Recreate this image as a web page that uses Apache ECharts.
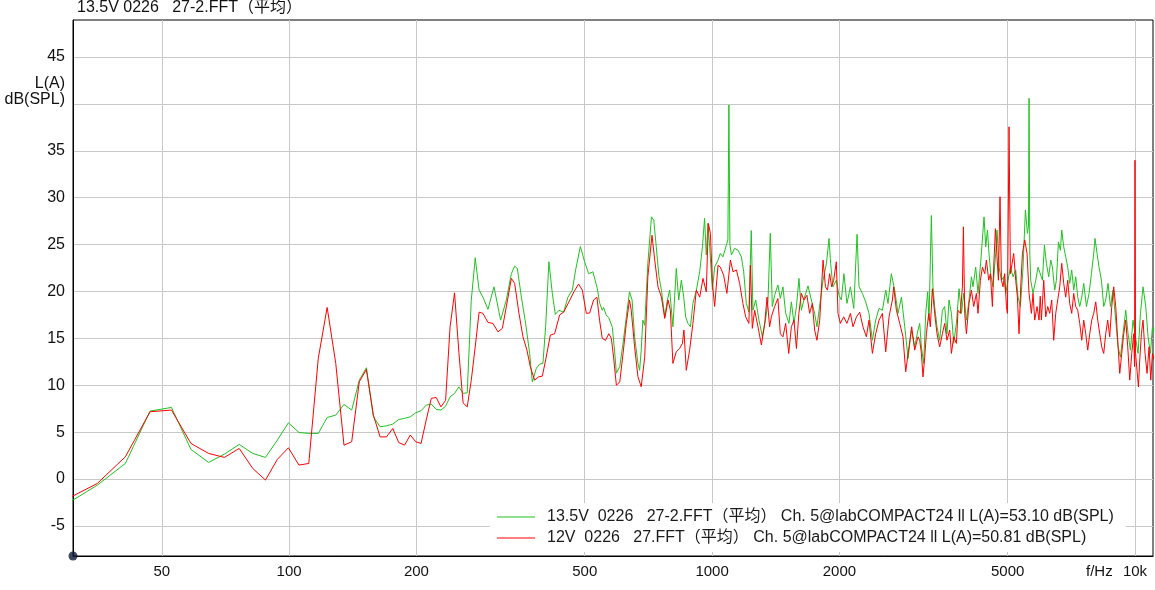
<!DOCTYPE html>
<html><head><meta charset="utf-8">
<script src="https://cdn.jsdelivr.net/npm/echarts@6/dist/echarts.min.js"></script>
<style>html,body{margin:0;padding:0;background:#fff}#c{width:1155px;height:590px}</style>
</head><body><div id="c"></div>
<script>
const titleText = '13.5V 0226   27-2.FFT（平均）';
const greenName = '13.5V  0226   27-2.FFT（平均） Ch. 5@labCOMPACT24 ll L(A)=53.10 dB(SPL)';
const redName = '12V  0226   27.FFT（平均） Ch. 5@labCOMPACT24 ll L(A)=50.81 dB(SPL)';
const unitLines = ['L(A)', 'dB(SPL)'];
const xTickHz = [50, 100, 200, 500, 1000, 2000, 5000, 10000];
const yGridTicks = [-5, 0, 5, 10, 15, 20, 25, 30, 35, 40, 45];
const yLabelTicks = [-5, 0, 5, 10, 15, 20, 25, 30, 35, 45];
const xMinHz = 30.83, xMaxHz = 11030, yMin = -8.2, yMax = 48.95;

const greenFreq = [29.3,35.2,41.0,46.9,52.7,58.6,64.5,70.3,76.2,82.0,87.9,93.8,99.6,105.5,111.3,117.2,123.0,128.9,134.8,140.6,146.5,152.3,158.2,164.1,169.9,175.8,181.6,187.5,193.4,199.2,205.1,210.9,216.8,222.7,228.5,234.4,240.2,246.1,252.0,257.8,263.7,269.5,275.4,281.3,
287.2,295.2,305.0,316.3,326.3,335.3,341.4,346.4,354.1,362.4,370.4,375.9,384.1,391.1,398.2,404.1,411.4,419.1,426.0,434.5,445.7,456.3,467.3,475.8,488.2,499.7,510.7,522.8,535.5,
542,550,554,562,570,581,588,594,605,616,627,638,647,656,668,674,680,686,693,705,719,728,738,749,759,773,784,794,808,823,834,846,857,866,877,889,901,918,935,949,960,969,978,987,1002,1014,1033,1046,1061,1081,1090,1096,1102,1111,1131,1152,1173,1188,1205,1222,1238,1249,1268,1291,1315,1339,1356,
1373,1388,1406,1431,1450,1471,1493,1520,1540,1562,1583,1605,1626,1655,1686,1717,1748,1770,1804,1830,1864,1890,1907,1931,1967,1996,2022,2050,2084,2124,2163,2202,2226,2267,2308,2350,2394,2437,2482,2528,2574,2606,2654,2703,2752,2804,2855,2907,2960,3014,3069,
3097,3126,3165,3200,3235,3258,3300,3329,3360,3403,3453,3504,3548,3593,3633,3681,3727,3782,3837,3887,3936,3994,4051,4104,4140,4201,4254,4318,4396,4437,4478,4517,4559,4616,4684,4718,4770,4833,4893,4947,5010,5075,5148,5224,5290,5359,5436,5507,5568,5600,5617,5640,5669,5740,5825,5899,
5953,6041,6107,6174,6252,6321,6379,6459,6519,6591,6663,6711,6784,6858,6933,7009,7086,7163,7242,7321,7402,7483,7565,7677,7787,7889,7988,8045,8133,8222,8330,8435,8527,8635,8748,8873,9004,9118,9238,9370,9509,9629,9755,9894,10024,10168,10301,10448,10603,10737,10877,10996,11200];
const greenDb = [-2.85,-0.64,1.67,7.25,7.64,3.16,1.78,2.66,3.7,2.74,2.31,4.16,6.0,4.97,4.87,4.87,6.57,6.82,7.96,7.36,10.55,11.87,6.64,5.58,5.68,5.86,6.36,6.47,6.64,7.07,7.29,7.89,8.0,7.43,7.36,7.78,8.77,9.14,9.84,9.14,9.2,19.0,23.6,20.15,
19.4,18.1,20.5,16.95,19.1,21.9,22.7,22.46,19.4,16.6,13.4,10.37,11.8,12.26,12.33,16.24,23.17,19.8,17.56,18.0,17.8,19.4,20.15,22.3,24.8,23.17,21.9,22.1,20.3,
18.8,18.0,18.3,17.5,17.2,16.2,13.75,11.3,12.0,14.5,17.3,19.97,19.1,15.17,12.33,11.6,13.75,16.95,16.4,23.0,27.96,27.6,24.77,21.57,20.15,17.3,19.1,20.15,16.24,22.46,19.1,21.2,19.4,17.3,16.6,16.24,18.73,20.15,22.1,24.77,27.8,23.9,27.26,24.77,20.15,22.6,23.35,24.06,23.7,24.95,25.5,39.9,25.0,23.9,24.6,24.4,23.7,22.1,18.73,17.8,26.5,18.0,19.1,16.95,15.17,17.1,19.0,
26.2,18.4,19.6,20.7,19.26,20.5,17.67,16.6,18.9,16.6,18.4,21.4,18.0,19.4,20.6,19.1,17.67,16.24,19.1,21.2,23.0,25.66,23.0,20.5,21.2,19.6,19.1,21.9,18.73,20.5,18.2,26.1,20.5,19.8,18.9,17.67,14.8,16.95,18.2,18.0,20.15,18.73,21.9,20.15,17.67,19.4,16.24,12.87,15.9,14.1,15.9,
16.6,14.1,12.33,17.67,19.97,16.95,28.1,20.5,18.4,16.24,14.8,18.0,18.4,15.5,19.1,17.67,14.47,16.6,20.3,17.67,19.8,16.95,19.1,21.57,20.5,22.6,19.8,23.17,27.96,24.77,26.55,24.06,21.9,20.5,24.06,26.55,22.6,21.2,21.57,19.8,21.2,22.6,21.57,22.3,19.4,18.4,22.6,28.7,26.2,27.0,40.6,24.0,21.2,19.8,21.2,22.6,
22.5,21.2,24.95,23.0,21.57,23.35,22.6,20.15,21.2,25.3,24.4,26.55,24.77,23.7,22.6,20.86,22.3,20.15,21.57,19.4,18.4,19.4,20.86,18.4,19.8,21.9,24.06,25.66,24.06,22.6,21.2,18.4,19.1,20.86,18.4,20.15,16.95,14.1,13.0,15.5,18.0,15.5,13.75,16.95,15.17,13.4,17.67,20.5,18.4,15.17,13.4,16.24,15.0];

const redFreq = [29.3,35.2,41.0,46.9,52.7,58.6,64.5,70.3,76.2,82.0,87.9,93.8,99.6,105.5,111.3,117.2,123.0,128.9,134.8,140.6,146.5,152.3,158.2,164.1,169.9,175.8,181.6,187.5,193.4,199.2,205.1,210.9,216.8,222.7,228.5,234.4,240.2,246.1,252.0,257.8,263.7,269.5,275.4,281.3,
287.2,295.2,303.3,311.7,319.3,326.3,335.3,341.4,349.5,357.2,365.0,371.8,380.6,389.0,396.9,404.1,414.6,424.4,436.1,445.7,458.8,471.4,483.6,493.5,504.3,513.5,524.8,534.3,
542,550,560,570,578,585,594,605,616,627,638,644,656,668,680,693,705,721,732,745,759,773,787,797,808,823,838,851,858,869,885,901,918,935,952,969,980,991,1002,1014,1033,1046,1065,1084,1105,1121,1142,1162,1183,1201,1222,1232,1245,1261,1284,1308,1332,1349,1368,
1381,1406,1431,1450,1471,1493,1518,1540,1562,1583,1604,1626,1649,1676,1701,1726,1748,1770,1797,1830,1854,1874,1897,1918,1939,1967,1985,2011,2047,2084,2124,2154,2195,2234,2274,2317,2350,2394,2437,2482,2528,2574,2621,2669,2688,2728,2778,2828,2870,2922,2965,3014,3069,
3097,3126,3153,3183,3212,3253,3282,3318,3360,3403,3453,3504,3548,3593,3647,3681,3727,3782,3816,3866,3908,3929,3957,3994,4051,4104,4156,4217,4254,4310,4358,4413,4453,4510,4551,4601,4634,4677,4718,4754,4796,4833,4875,4920,4966,4993,5037,5075,5167,5224,5272,5319,5368,5418,5486,5556,5617,5690,5740,5794,5867,5931,
5970,6008,6084,6151,6218,6286,6355,6424,6495,6566,6638,6711,6784,6858,6933,7009,7086,7163,7242,7321,7402,7483,7565,7648,7731,7816,7902,7988,8076,8164,8253,8344,8435,8527,8620,8715,8811,8907,9004,9103,9203,9304,9405,9509,9613,9718,9825,9932,9975,10000,10030,10189,10262,10357,10448,10563,10679,10796,10896,10996,11200];
const redDb = [-2.31,-0.46,2.38,7.18,7.36,3.8,2.74,2.31,3.27,1.14,-0.1,2.1,3.34,1.49,1.67,12.87,18.3,12.33,3.62,3.98,10.37,11.69,6.82,4.5,4.5,5.4,3.9,3.62,4.7,3.98,3.8,6.29,8.6,8.71,7.7,8.4,16.24,19.86,13.5,8.13,7.7,10.5,14.1,17.8,
17.67,16.7,16.6,15.7,16.07,18.4,21.4,20.86,17.67,15.17,13.75,11.97,10.55,10.9,10.98,12.7,15.35,15.5,17.5,17.8,18.9,19.97,20.8,20.15,17.67,17.7,19.1,19.4,
16.95,15.0,14.8,15.5,15.0,13.0,10.0,10.37,13.4,16.6,19.1,18.0,14.1,10.9,9.84,13.0,21.57,26.0,23.35,20.5,19.4,17.13,19.1,18.0,12.33,13.57,13.93,14.47,15.9,11.6,13.75,16.6,20.15,19.4,21.4,19.97,27.26,26.2,20.86,18.4,22.8,22.6,21.75,19.8,23.35,22.1,22.3,20.86,18.73,17.3,16.6,22.8,16.07,18.0,16.24,14.3,16.6,19.4,16.24,
17.3,18.4,19.26,15.5,15.17,16.6,13.4,16.24,16.95,13.93,17.67,19.8,19.1,19.6,17.67,18.73,15.9,14.8,16.95,23.35,20.5,20.15,21.9,20.5,21.2,23.17,17.67,16.6,17.3,16.6,17.67,16.24,17.3,17.8,16.24,15.17,16.95,13.4,15.5,16.95,17.67,13.57,17.3,19.1,20.5,18.0,16.6,15.17,11.44,14.1,16.24,13.75,15.17,
14.8,13.4,10.9,13.0,15.5,17.67,16.24,20.3,17.67,15.5,14.1,15.5,16.6,14.8,15.9,13.4,15.17,14.47,18.0,17.67,20.5,26.9,17.67,15.5,18.73,20.15,18.4,19.8,17.67,21.2,22.6,21.9,23.35,21.2,21.9,18.4,22.6,26.7,23.7,21.2,30.1,21.2,20.5,21.9,18.4,17.67,37.56,21.9,24.06,21.2,19.4,15.5,20.5,24.06,25.5,24.06,19.8,17.67,19.8,16.95,18.4,16.95,
19.5,16.95,21.2,17.3,18.4,17.67,19.1,14.8,17.67,19.1,20.5,23.0,20.86,19.4,21.2,18.73,17.67,19.8,18.4,18.0,16.6,14.8,16.95,15.5,13.75,15.5,16.95,17.67,18.9,16.95,15.5,14.1,13.4,15.5,16.95,15.17,18.4,20.5,18.4,14.8,11.27,13.4,15.5,16.95,14.1,10.55,13.4,15.5,12.0,34.0,13.4,9.84,12.7,15.5,16.95,13.4,11.27,14.1,10.55,13.4,12.0];

const FONT = "'Liberation Sans', Arial, 'Noto Sans CJK SC', sans-serif";
const toLog = f => Math.log10(f);
const greenData = greenFreq.map((f, i) => [toLog(f), greenDb[i]]);
const redData = redFreq.map((f, i) => [toLog(f), redDb[i]]);

const chart = echarts.init(document.getElementById('c'), null, {renderer: 'canvas'});
chart.setOption({
  animation: false,
  backgroundColor: '#fff',
  title: {text: titleText, left: 77, top: 0, padding: 0,
    textStyle: {fontSize: 16, fontWeight: 'normal', color: '#111', fontFamily: FONT}},
  grid: {left: 73, right: 2, top: 20, bottom: 34, show: true, borderColor: '#000', borderWidth: 1, backgroundColor: 'transparent'},
  legend: {
    data: [greenName, redName], orient: 'vertical', left: 490, top: 503,
    backgroundColor: '#fff', padding: [6, 12, 6, 7], itemGap: 5,
    itemWidth: 38, itemHeight: 1, icon: 'rect',
    textStyle: {fontSize: 16, color: '#1a1a1a', fontFamily: FONT, padding: [0, 0, 0, 7]}
  },
  xAxis: {
    type: 'value', min: toLog(xMinHz), max: toLog(xMaxHz),
    axisLine: {show: true, onZero: false, lineStyle: {color: '#000', width: 1}},
    axisTick: {show: false, customValues: xTickHz.map(toLog)},
    axisLabel: {customValues: xTickHz.map(toLog), margin: 8, fontSize: 15, color: '#111', fontFamily: FONT,
      formatter: v => { const f = Math.round(Math.pow(10, v)); return f >= 10000 ? (f / 1000) + 'k' : String(f); }},
    splitLine: {show: true, lineStyle: {color: '#c8c8c8', width: 1}}
  },
  yAxis: {
    type: 'value', min: yMin, max: yMax,
    axisLine: {show: true, onZero: false, lineStyle: {color: '#000', width: 1}},
    axisTick: {show: false, customValues: yGridTicks},
    axisLabel: {customValues: yLabelTicks, margin: 8, fontSize: 16, color: '#111', fontFamily: FONT},
    splitLine: {show: true, lineStyle: {color: '#c8c8c8', width: 1}}
  },
  graphic: [
    {type: 'text', left: 1086, top: 564, style: {text: 'f/Hz', font: '15px ' + FONT, fill: '#111'}},
    {type: 'text', right: 1155 - 65, top: 76, style: {text: unitLines[0], font: '16px ' + FONT, fill: '#111'}},
    {type: 'text', right: 1155 - 65, top: 92, style: {text: unitLines[1], font: '16px ' + FONT, fill: '#111'}}
  ],
  series: [
    {name: greenName, type: 'line', data: greenData, showSymbol: false, lineStyle: {color: '#1fc21f', width: 1}, itemStyle: {color: '#1fc21f'}, z: 2},
    {name: redName, type: 'line', data: redData, showSymbol: false, lineStyle: {color: '#ff0000', width: 1}, itemStyle: {color: '#ff0000'}, z: 3},
    {type: 'scatter', data: [[toLog(xMinHz), yMin]], symbolSize: 9, itemStyle: {color: '#0c1a33'}, clip: false, silent: true, z: 5}
  ]
});
</script></body></html>
